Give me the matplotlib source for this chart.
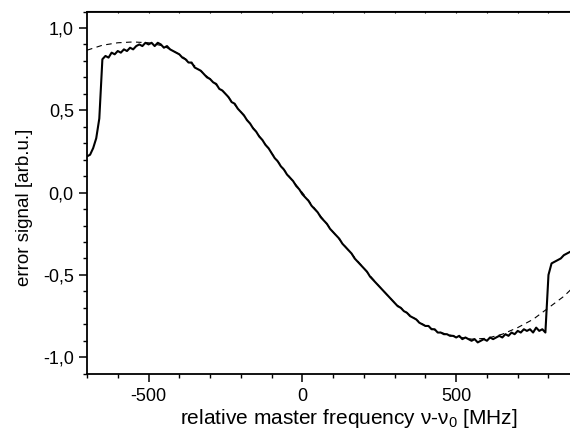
import numpy as np
import matplotlib
matplotlib.use("Agg")
import matplotlib.pyplot as plt
from matplotlib.ticker import MultipleLocator, FuncFormatter

plt.rcParams['font.family'] = ['Liberation Sans', 'DejaVu Sans']
plt.rcParams['axes.unicode_minus'] = False
plt.rcParams['mathtext.fontset'] = 'custom'
plt.rcParams['mathtext.rm'] = 'Liberation Sans'
plt.rcParams['mathtext.it'] = 'Liberation Sans:italic'

# measured error signal, one value every 10 MHz starting at -700 MHz
signal_start = -700
signal_step = 10
signal = [
    0.22, 0.23, 0.27, 0.33, 0.45, 0.81, 0.83, 0.82, 0.85, 0.84,   # -700 .. -610
    0.86, 0.85, 0.87, 0.86, 0.88, 0.87, 0.89, 0.90, 0.89, 0.91,   # -600 .. -510
    0.90, 0.91, 0.89, 0.91, 0.90, 0.88, 0.89, 0.87, 0.86, 0.85,   # -500 .. -410
    0.84, 0.82, 0.81, 0.79, 0.79, 0.76, 0.75, 0.74, 0.72, 0.70,   # -400 .. -310
    0.69, 0.67, 0.66, 0.63, 0.62, 0.60, 0.58, 0.55, 0.54, 0.51,   # -300 .. -210
    0.49, 0.47, 0.44, 0.42, 0.39, 0.37, 0.34, 0.32, 0.29, 0.27,   # -200 .. -110
    0.24, 0.21, 0.19, 0.16, 0.14, 0.11, 0.09, 0.07, 0.04, 0.02,   # -100 .. -10
    -0.01, -0.03, -0.05, -0.08, -0.10, -0.12, -0.15, -0.17, -0.19, -0.22,  # 0 .. 90
    -0.24, -0.26, -0.28, -0.31, -0.33, -0.35, -0.37, -0.40, -0.42, -0.44,  # 100 .. 190
    -0.46, -0.48, -0.51, -0.53, -0.55, -0.57, -0.59, -0.61, -0.63, -0.65,  # 200 .. 290
    -0.67, -0.69, -0.70, -0.72, -0.73, -0.75, -0.76, -0.77, -0.79, -0.80,  # 300 .. 390
    -0.81, -0.81, -0.83, -0.83, -0.85, -0.85, -0.86, -0.86, -0.87, -0.87,  # 400 .. 490
    -0.88, -0.87, -0.89, -0.88, -0.89, -0.90, -0.89, -0.91, -0.90, -0.89,  # 500 .. 590
    -0.90, -0.88, -0.89, -0.88, -0.87, -0.88, -0.86, -0.87, -0.85, -0.86,  # 600 .. 690
    -0.84, -0.85, -0.83, -0.84, -0.83, -0.85, -0.82, -0.84, -0.83, -0.85,  # 700 .. 790
    -0.50, -0.43, -0.42, -0.41, -0.40, -0.38, -0.37, -0.36,               # 800 .. 870
]

# fitted curve (dashed)
fit_freq = [-700, -650, -600, -550, -500, -450, -400, -350, -300, -250, -200,
            -150, -100, -50, 0, 50, 100, 150, 200, 250, 300, 350, 400, 450,
            500, 550, 600, 650, 700, 750, 800, 850, 875]
fit_vals = [0.865, 0.895, 0.91, 0.915, 0.91, 0.89, 0.84, 0.77, 0.69, 0.60, 0.49,
            0.37, 0.24, 0.115, 0.0, -0.12, -0.24, -0.35, -0.46, -0.57, -0.67,
            -0.745, -0.81, -0.85, -0.875, -0.89, -0.885, -0.86, -0.82, -0.77,
            -0.70, -0.63, -0.585]

x_major = [-500, 0, 500]
y_major = [-1.0, -0.5, 0.0, 0.5, 1.0]

sig_freq = signal_start + signal_step * np.arange(len(signal))

W, H = 570, 432
fig = plt.figure(figsize=(W / 100, H / 100), dpi=100)
left_px, right_px, top_px, bot_px = 87, 610, 11.5, 373.7
ax = fig.add_axes([left_px / W, 1 - bot_px / H, (right_px - left_px) / W, (bot_px - top_px) / H])

ax.plot(fit_freq, fit_vals, color='black', lw=0.8, ls=(0, (5, 4)))
ax.plot(sig_freq, signal, color='black', lw=1.5)

ax.set_xlim(-700, 1000)
ax.set_ylim(-1.1, 1.1)
ax.set_xticks(x_major)
ax.set_yticks(y_major)
ax.xaxis.set_minor_locator(MultipleLocator(100))
ax.yaxis.set_minor_locator(MultipleLocator(0.1))
ax.yaxis.set_major_formatter(FuncFormatter(lambda v, p: f"{v:.1f}".replace('.', ',')))
ax.xaxis.set_major_formatter(FuncFormatter(lambda v, p: f"{v:.0f}"))

ax.tick_params(which='major', direction='out', length=6, width=1.1, labelsize=13, colors='black')
ax.tick_params(axis='x', which='major', pad=4.5)
ax.tick_params(which='minor', direction='out', length=3, width=1.0)
for s in ['left', 'bottom', 'top']:
    ax.spines[s].set_linewidth(1.3)
ax.spines['right'].set_visible(False)

top = ax.secondary_xaxis('top')
top.set_xticks(list(range(-600, 1000, 100)))
top.tick_params(direction='in', length=1.5, width=0.8, labeltop=False)
top.set_xticklabels([])

ax.set_xlabel(r'relative master frequency ν-ν$_0$ [MHz]', fontsize=15, labelpad=1)
ax.set_ylabel('error signal [arb.u.]', fontsize=13.5)
ax.yaxis.set_label_coords(-0.103, 0.46)

fig.savefig('out.png', dpi=100)
